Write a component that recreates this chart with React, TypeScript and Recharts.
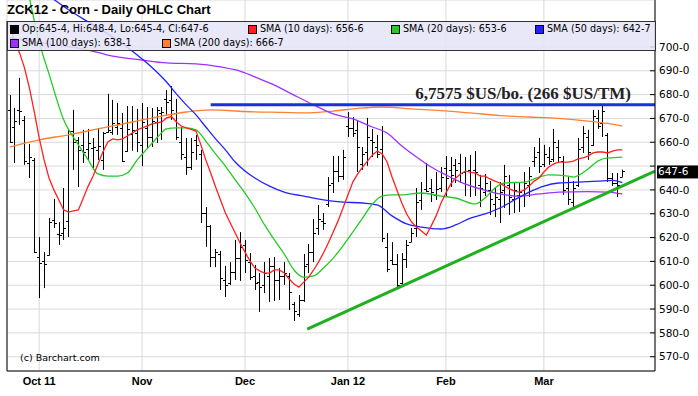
import React from "react";
import { ComposedChart, Bar, Line, XAxis, YAxis, CartesianGrid, ReferenceLine } from "recharts";

// daily bars ZCK12, 23 Sep 2011 .. 23 Mar 2012 (index = trading day)
const opens = [
	673.6, 666.4, 673.6, 669.4, 651.3, 652.6, 611.8, 610.0, 612.7, 627.4,
	621.5, 622.0, 626.9, 664.7, 661.0, 658.9, 657.0, 657.6, 656.8, 652.6,
	664.3, 664.3, 666.4, 666.0, 656.5, 663.5, 664.0, 659.0, 666.0, 662.1,
	668.6, 672.2, 678.0, 677.8, 672.2, 660.0, 654.0, 649.5, 661.0, 655.0,
	630.2, 625.0, 611.8, 613.0, 602.2, 601.0, 605.7, 611.3, 617.0, 609.7,
	604.0, 601.5, 600.0, 604.0, 608.0, 602.0, 604.0, 604.0, 592.0, 588.0,
	594.0, 609.0, 614.0, 624.0, 627.0, 634.0, 643.0, 648.0, 646.0, 667.0,
	666.0, 665.0, 651.0, 656.0, 661.0, 658.0, 657.0, 616.0, 610.6, 609.0,
	601.0, 611.0, 618.2, 623.9, 635.8, 640.3, 641.0, 638.0, 641.0, 649.0,
	648.4, 650.5, 651.4, 647.7, 648.4, 648.4, 642.0, 639.3, 640.0, 634.0,
	636.0, 640.0, 642.0, 636.0, 638.0, 640.0, 642.0, 652.0, 656.0, 651.0,
	654.0, 653.0, 658.0, 652.0, 641.0, 635.0, 642.0, 658.0, 662.0, 659.0,
	670.0, 668.0, 663.0, 645.0, 643.0, 645.5,
];
const highs = [
	679.8, 674.4, 687.0, 671.0, 659.3, 653.4, 620.2, 613.9, 628.2, 636.2,
	626.5, 640.8, 665.2, 673.6, 662.2, 665.2, 665.6, 661.8, 666.0, 664.3,
	680.3, 677.8, 676.5, 672.3, 675.2, 675.2, 674.0, 676.5, 674.8, 674.4,
	674.8, 674.8, 681.9, 683.6, 678.2, 666.4, 661.8, 661.8, 663.1, 656.8,
	632.8, 625.3, 615.2, 614.4, 608.1, 609.7, 619.0, 622.3, 619.0, 613.5,
	608.5, 605.1, 609.7, 611.4, 611.8, 607.2, 609.7, 605.1, 593.0, 595.9,
	613.1, 617.3, 627.8, 633.7, 630.3, 645.4, 654.2, 654.2, 656.8, 672.7,
	670.6, 668.9, 658.0, 670.2, 665.6, 663.1, 666.8, 621.9, 618.1, 613.1,
	613.5, 619.0, 624.0, 640.8, 643.3, 651.3, 644.6, 647.5, 649.6, 654.2,
	653.8, 653.0, 655.1, 653.8, 654.7, 656.3, 646.3, 646.7, 643.7, 641.2,
	643.3, 650.5, 646.3, 643.3, 642.9, 647.5, 649.6, 658.0, 661.8, 658.9,
	658.0, 665.6, 661.0, 654.2, 645.4, 643.7, 661.8, 666.8, 665.2, 673.6,
	673.6, 676.1, 663.9, 647.1, 647.1, 648.5,
];
const lows = [
	659.7, 651.3, 667.3, 650.5, 645.0, 613.5, 594.6, 598.8, 612.5, 624.0,
	616.9, 619.0, 620.2, 648.4, 641.2, 651.3, 652.6, 648.4, 652.6, 648.4,
	664.0, 663.1, 663.1, 651.7, 656.0, 656.4, 655.9, 650.0, 657.2, 658.0,
	659.7, 661.0, 671.5, 669.4, 661.0, 652.6, 646.3, 648.4, 652.6, 626.1,
	616.1, 607.6, 607.6, 598.0, 595.0, 600.1, 602.2, 601.8, 605.1, 602.2,
	598.0, 588.8, 596.7, 593.0, 593.4, 593.8, 600.1, 589.6, 585.0, 586.7,
	593.0, 605.1, 609.7, 621.1, 623.2, 632.8, 638.7, 643.3, 644.2, 662.2,
	662.2, 647.5, 648.4, 650.1, 653.8, 653.4, 618.1, 605.5, 608.5, 599.2,
	600.1, 607.2, 618.1, 620.2, 631.6, 639.1, 634.9, 635.8, 639.1, 637.4,
	641.2, 642.9, 642.9, 637.4, 637.0, 637.4, 632.8, 637.4, 629.5, 628.6,
	626.1, 632.4, 629.5, 630.3, 630.7, 632.8, 637.0, 649.6, 647.1, 649.6,
	650.5, 651.7, 651.3, 637.9, 633.7, 632.0, 641.2, 655.5, 652.6, 658.4,
	665.6, 662.2, 643.3, 641.6, 637.0, 645.5,
];
const closes = [
	660.2, 668.9, 673.1, 652.1, 653.8, 613.9, 609.3, 609.0, 626.5, 626.1,
	621.1, 624.0, 664.7, 660.1, 656.8, 655.9, 659.7, 658.0, 658.4, 664.0,
	665.2, 668.0, 668.1, 652.0, 665.6, 665.2, 660.1, 668.5, 662.2, 669.1,
	673.6, 672.6, 677.0, 673.6, 662.1, 655.1, 649.5, 656.0, 658.7, 630.2,
	625.0, 612.0, 614.0, 603.0, 600.1, 605.7, 611.4, 616.2, 610.6, 603.4,
	601.0, 599.2, 605.0, 608.0, 602.0, 604.0, 605.0, 597.0, 589.0, 594.0,
	608.0, 614.0, 622.0, 628.0, 626.0, 642.0, 648.0, 646.0, 654.0, 666.0,
	664.0, 658.0, 655.0, 662.0, 660.0, 655.0, 620.0, 607.0, 609.0, 600.1,
	611.0, 617.0, 621.8, 635.0, 638.6, 639.7, 639.0, 640.3, 645.3, 644.9,
	646.3, 648.4, 647.0, 648.1, 647.7, 647.7, 640.7, 642.8, 636.0, 637.0,
	639.0, 646.0, 637.0, 640.0, 639.0, 643.0, 646.0, 654.0, 650.0, 655.0,
	652.0, 660.0, 654.0, 640.0, 636.0, 641.0, 657.0, 664.0, 656.0, 671.0,
	667.0, 673.0, 645.0, 643.0, 642.0, 647.75,
];

const monthTicks = [6, 27, 48, 69, 89, 109];
const monthLabels = ["Oct 11", "Nov", "Dec", "Jan 12", "Feb", "Mar"];
const priceTicks = [570, 580, 590, 600, 610, 620, 630, 640, 650, 660, 670, 680, 690, 700];

// SMA 10, one value per bar
const sma10 = [
	709.2, 702.1, 697.5, 691.2, 682.8, 672.7, 661.8, 652.6, 645.0, 640.0,
	635.8, 631.6, 630.7, 631.2, 631.6, 636.6, 641.6, 645.8, 650.9, 655.9,
	660.1, 661.4, 661.0, 661.4, 662.6, 663.9, 665.2, 666.0, 666.8, 667.7,
	668.1, 668.5, 670.2, 670.8, 668.5, 666.8, 666.0, 665.4, 664.7, 658.9,
	652.6, 647.1, 641.2, 635.8, 630.3, 626.1, 621.9, 617.7, 613.9, 610.2,
	607.2, 606.0, 605.1, 605.1, 606.4, 606.4, 605.1, 602.6, 600.5, 599.2,
	601.3, 603.4, 606.4, 609.7, 613.5, 617.7, 622.3, 627.0, 632.4, 637.9,
	643.3, 646.7, 649.6, 652.1, 654.7, 656.3, 655.1, 651.7, 645.4, 640.0,
	634.5, 629.9, 626.5, 624.4, 622.8, 621.1, 624.9, 629.1, 634.5, 638.7,
	642.5, 645.0, 646.7, 647.9, 647.5, 647.1, 645.8, 645.8, 644.6, 643.7,
	642.9, 641.6, 640.4, 639.5, 639.1, 640.0, 641.6, 643.7, 645.0, 647.5,
	649.6, 650.9, 651.7, 651.7, 651.7, 652.1, 653.0, 653.4, 654.2, 655.5,
	655.9, 655.9, 655.5, 656.3, 656.8, 656.8,
];
// longer averages, read at [bar index, value]
const sma20: [number, number][] = [
	[4, 720.6], [6, 702.1], [8, 688.7], [11, 669.4], [14, 658.9], [16, 652.6], [18, 646.7],
	[20, 645.8], [22, 645.8], [24, 647.1], [26, 652.6], [28, 657.2], [30, 661.8], [32, 665.6],
	[34, 666.0], [36, 666.0], [38, 665.2], [40, 660.5], [42, 655.1], [44, 650.0], [46, 644.2],
	[48, 638.7], [50, 632.4], [52, 625.3], [54, 619.0], [56, 613.1], [58, 606.4], [60, 603.4],
	[62, 603.9], [64, 607.2], [66, 611.4], [68, 616.5], [70, 622.3], [72, 628.2], [74, 634.1],
	[76, 637.4], [78, 637.9], [80, 637.9], [84, 638.7], [88, 637.4], [91, 636.6], [95, 634.1],
	[97, 636.6], [99, 640.8], [101, 642.9], [105, 643.3], [108, 645.4], [110, 646.3],
	[114, 645.8], [115, 645.4], [118, 648.8], [120, 652.1], [122, 653.4], [125, 653.8],
];
const sma50: [number, number][] = [
	[8, 721.4], [12, 715.6], [16, 710.5], [20, 705.5], [23, 701.3], [26, 696.6], [28, 693.3],
	[30, 689.5], [32, 685.3], [34, 680.3], [36, 675.7], [38, 671.5], [40, 666.4], [42, 661.4],
	[44, 656.8], [46, 651.7], [48, 647.9], [50, 645.0], [53, 641.6], [56, 639.1], [60, 637.4],
	[64, 635.8], [68, 634.9], [72, 634.5], [75, 633.7], [78, 629.1], [81, 625.7], [84, 624.4],
	[88, 623.6], [91, 625.3], [94, 628.2], [97, 629.9], [100, 632.4], [103, 635.8], [106, 639.1],
	[109, 641.6], [112, 642.9], [116, 643.3], [120, 643.7], [123, 644.0], [125, 643.1],
];
const sma100: [number, number][] = [
	[0, 703.8], [8, 701.3], [16, 698.7], [20, 696.6], [27, 694.5], [32, 693.3], [38, 692.9],
	[43, 691.6], [47, 689.9], [50, 687.4], [54, 684.0], [58, 679.8], [62, 675.7], [66, 671.9],
	[70, 669.8], [74, 666.4], [77, 663.9], [80, 658.4], [83, 653.8], [86, 649.6], [89, 646.3],
	[92, 643.3], [96, 640.4], [100, 638.3], [104, 637.4], [108, 638.3], [112, 639.1],
	[118, 639.3], [122, 639.1], [125, 638.3],
];
const sma200: [number, number][] = [
	[0, 658.0], [6, 661.0], [12, 663.1], [18, 665.6], [25, 668.5], [31, 671.0], [36, 672.7],
	[41, 673.6], [48, 672.9], [56, 672.5], [60, 672.3], [66, 673.1], [71, 674.2], [76, 674.8],
	[82, 674.0], [88, 673.3], [94, 672.3], [100, 671.2], [106, 670.6], [112, 670.0],
	[118, 668.9], [122, 667.9], [125, 666.8],
];

const resistancePrice = 675.75;
const resistanceFrom = 41;
const trendLine: [number, number][] = [[60.7, 581.6], [131.67, 647.9]];
const lastClose = 647.75;

const X_MIN = -0.57;
const X_MAX = 131.67;
const Y_MIN = 564;
const Y_MAX = 719.7;

const bars = highs.map((h, i) => ({ i, range: [lows[i], h], open: opens[i], close: closes[i] }));
const rows = (pts: [number, number][]) => pts.map(([i, v]) => ({ i, v }));
const sma10Rows = sma10.map((v, i) => ({ i, v }));

// 647.75 -> "647-6" (eighths)
const eighths = (v: number) => `${Math.floor(v)}-${Math.round((v % 1) * 8)}`;

const OhlcShape = (props: any) => {
	const { x, y, width, height, payload } = props;
	const [lo, hi] = payload.range;
	const top = Math.min(y, y + height);
	const bottom = Math.max(y, y + height);
	const cx = Math.round(x + width / 2) + 0.5;
	const at = (v: number) => Math.round(top + ((hi - v) / (hi - lo)) * (bottom - top)) + 0.5;
	return (
		<g stroke="#000" strokeWidth={1}>
			<line x1={cx} x2={cx} y1={top} y2={bottom} />
			<line x1={cx - 2.5} x2={cx} y1={at(payload.open)} y2={at(payload.open)} />
			<line x1={cx} x2={cx + 2.5} y1={at(payload.close)} y2={at(payload.close)} />
		</g>
	);
};

// the last-price box sits on top of the nearest label, so that one shows no text
const PriceTick = ({ x, y, payload }: any) => (
	<g>
		<line x1={x - 5} x2={x} y1={y} y2={y} stroke="#000" />
		{Math.abs(payload.value - lastClose) > 4 && (
			<text x={x + 4} y={y} dy="0.35em" fontSize={10.5} fontFamily="DejaVu Sans" fill="#000">
				{`${payload.value}-0`}
			</text>
		)}
	</g>
);

const LastPriceLabel = ({ viewBox }: any) => {
	const x = viewBox.x + viewBox.width;
	const y = viewBox.y;
	return (
		<g>
			<rect x={x + 2} y={y - 6} width={43} height={13} fill="#000" />
			<text x={x + 3} y={y} dy="0.36em" fontSize={10.5} fontFamily="DejaVu Sans" fill="#fff">
				{eighths(lastClose)}
			</text>
		</g>
	);
};

const NoteLabel = ({ viewBox }: any) => (
	<text
		x={viewBox.x + viewBox.width - 24}
		y={viewBox.y - 6}
		textAnchor="end"
		fontSize={17}
		fontWeight="bold"
		fontFamily="Liberation Serif"
		fill="#222"
	>
		6,7575 $US/bo. (266 $US/TM)
	</text>
);

const legendRows = [
	{ color: "#000", text: `Op:${eighths(opens[125])}, Hi:${eighths(highs[125])}, Lo:${eighths(lows[125])}, Cl:${eighths(closes[125])}`, x: 10, row: 0 },
	{ color: "#ff2020", text: "SMA (10 days): 656-6", x: 248, row: 0 },
	{ color: "#22cc22", text: "SMA (20 days): 653-6", x: 391, row: 0 },
	{ color: "#2222ff", text: "SMA (50 days): 642-7", x: 535, row: 0 },
	{ color: "#a030ff", text: "SMA (100 days): 638-1", x: 10, row: 1 },
	{ color: "#ff8030", text: "SMA (200 days): 666-7", x: 162, row: 1 },
];

export default function App() {
	return (
		<div style={{ position: "absolute", left: 0, top: 0, width: 698, height: 396, background: "#fff", overflow: "hidden" }}>
			<ComposedChart width={698} height={396} data={bars} margin={{ top: 0, right: 0, bottom: 0, left: 7 }}>
				<CartesianGrid stroke="#d9d9d9" />
				<XAxis
					dataKey="i"
					type="number"
					domain={[X_MIN, X_MAX]}
					allowDataOverflow
					ticks={monthTicks}
					tickFormatter={(v: number) => monthLabels[monthTicks.indexOf(v)] ?? ""}
					tickLine={false}
					tickSize={0}
					tickMargin={6}
					height={25}
					axisLine={{ stroke: "#000" }}
					tick={{ fontSize: 11, fontWeight: "bold", fontFamily: "Liberation Sans", fill: "#000" }}
				/>
				<YAxis
					orientation="right"
					type="number"
					domain={[Y_MIN, Y_MAX]}
					allowDataOverflow
					ticks={priceTicks}
					width={43}
					tickLine={false}
					tickSize={0}
					tickMargin={0}
					axisLine={{ stroke: "#000" }}
					tick={<PriceTick />}
				/>
				<ReferenceLine
					segment={[{ x: X_MIN, y: Y_MIN }, { x: X_MIN, y: 710.9 }]}
					stroke="#000"
					ifOverflow="visible"
				/>
				<Bar dataKey="range" barSize={5} shape={<OhlcShape />} isAnimationActive={false} />
				<Line data={rows(sma200)} dataKey="v" type="monotone" stroke="#ff8030" strokeWidth={1.3} dot={false} isAnimationActive={false} />
				<Line data={rows(sma100)} dataKey="v" type="monotone" stroke="#a030ff" strokeWidth={1.3} dot={false} isAnimationActive={false} />
				<Line data={rows(sma50)} dataKey="v" type="monotone" stroke="#2222ff" strokeWidth={1.3} dot={false} isAnimationActive={false} />
				<Line data={rows(sma20)} dataKey="v" type="monotone" stroke="#22cc22" strokeWidth={1.3} dot={false} isAnimationActive={false} />
				<Line data={sma10Rows} dataKey="v" type="linear" stroke="#ff2020" strokeWidth={1.3} dot={false} isAnimationActive={false} />
				<ReferenceLine
					segment={[{ x: resistanceFrom, y: resistancePrice }, { x: X_MAX, y: resistancePrice }]}
					stroke="#1a2fe0"
					strokeWidth={3}
					ifOverflow="visible"
					label={<NoteLabel />}
				/>
				<ReferenceLine
					segment={[{ x: trendLine[0][0], y: trendLine[0][1] }, { x: trendLine[1][0], y: trendLine[1][1] }]}
					stroke="#1fb01f"
					strokeWidth={3}
					ifOverflow="visible"
				/>
				<ReferenceLine y={lastClose} stroke="none" label={<LastPriceLabel />} />
			</ComposedChart>

			<div style={{ position: "absolute", left: 7, top: 2, font: "bold 13px 'Liberation Sans'", lineHeight: "15px", color: "#000" }}>
				ZCK12 - Corn - Daily OHLC Chart
			</div>
			<div
				style={{
					position: "absolute",
					left: 7,
					top: 21,
					width: 649,
					height: 30,
					boxSizing: "border-box",
					border: "1px solid #333",
					background: "rgba(228,228,248,0.85)",
				}}
			/>
			{legendRows.map((r) => (
				<React.Fragment key={r.text}>
					<div
						style={{
							position: "absolute",
							left: r.x,
							top: 25 + r.row * 14,
							width: 7,
							height: 7,
							background: r.color,
							border: "1px solid #000",
						}}
					/>
					<div
						style={{
							position: "absolute",
							left: r.x + 12,
							top: 23 + r.row * 14,
							font: "9.6px 'DejaVu Sans'",
							lineHeight: "12px",
							color: "#000",
							whiteSpace: "nowrap",
						}}
					>
						{r.text}
					</div>
				</React.Fragment>
			))}
			<div style={{ position: "absolute", left: 20, top: 352, font: "9.5px 'DejaVu Sans'", lineHeight: "12px", color: "#000" }}>
				(c) Barchart.com
			</div>
		</div>
	);
}
